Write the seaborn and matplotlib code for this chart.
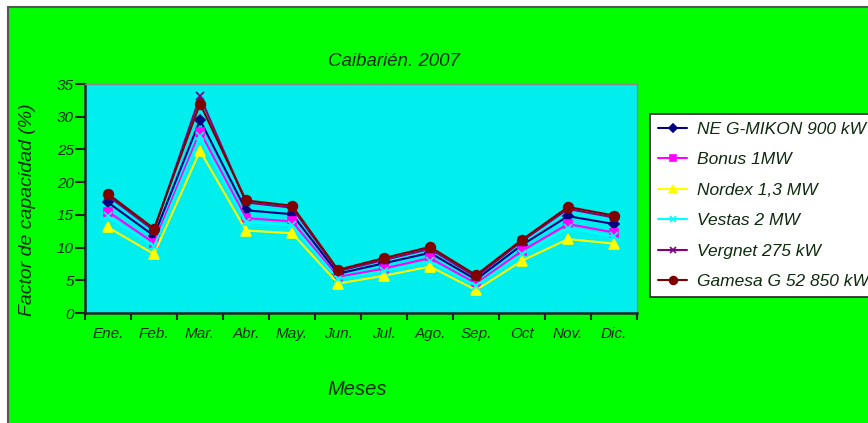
import matplotlib
matplotlib.use("Agg")
import matplotlib.pyplot as plt
import matplotlib.patches as mpatches
import seaborn as sns
import pandas as pd
import numpy as np

meses = ["Ene.", "Feb.", "Mar.", "Abr.", "May.", "Jun.", "Jul.", "Ago.", "Sep.", "Oct", "Nov.", "Dic."]

ne_gmikon = [16.9, 11.8, 29.5, 15.7, 15.1, 6.0, 7.6, 9.2, 5.1, 10.4, 14.8, 13.6]
bonus = [15.5, 10.7, 27.7, 14.5, 14.0, 5.5, 6.8, 8.4, 4.5, 9.5, 13.6, 12.3]
nordex = [13.1, 9.0, 24.8, 12.6, 12.2, 4.5, 5.7, 7.1, 3.5, 8.0, 11.3, 10.6]
vestas = [14.8, 10.2, 27.0, 13.9, 13.4, 5.2, 6.4, 7.9, 4.2, 9.0, 13.0, 11.7]
vergnet = [17.9, 12.6, 33.1, 16.9, 16.1, 6.4, 8.1, 9.8, 5.5, 11.0, 15.9, 14.6]
gamesa = [18.2, 12.9, 32.0, 17.2, 16.4, 6.6, 8.4, 10.1, 5.8, 11.2, 16.2, 14.9]

series = {
    "NE G-MIKON 900 kW": ne_gmikon,
    "Bonus 1MW": bonus,
    "Nordex 1,3 MW": nordex,
    "Vestas 2 MW": vestas,
    "Vergnet 275 kW": vergnet,
    "Gamesa G 52 850 kW": gamesa,
}
colores = ["#000080", "#ff00ff", "#ffff00", "#00ffff", "#800080", "#800000"]
marcadores = ["D", "s", "^", "x", "x", "o"]
tamanos = [5, 6, 7, 6, 6, 7]
texto = "#0d2b0d"

sns.set_style("white")
plt.rcParams["font.family"] = ["Liberation Sans", "DejaVu Sans"]
plt.rcParams["font.style"] = "italic"

fig = plt.figure(figsize=(8.68, 4.23), dpi=100)
fig.patch.set_facecolor("white")
# fondo verde del area del grafico
fondo = mpatches.Rectangle((8 / 868, -0.01), 1, 1.01 - 7 / 423, transform=fig.transFigure,
                           facecolor="#00ff00", edgecolor="#555555", linewidth=1.5, zorder=-10)
fig.patches.append(fondo)

ax = fig.add_axes([85 / 868, 110 / 423, 552 / 868, 229 / 423])
ax.set_facecolor("#00eeee")

x = np.arange(len(meses))
for (nombre, vals), c, m, s in zip(series.items(), colores, marcadores, tamanos):
    df = pd.DataFrame({"mes": x, "valor": vals})
    sns.lineplot(data=df, x="mes", y="valor", ax=ax, color=c, marker=m, markersize=s,
                 markeredgecolor=c, markeredgewidth=1.2, linewidth=1.5, label=nombre)

ax.set_xlim(-0.5, 11.5)
ax.set_ylim(0, 35)
ax.set_yticks(range(0, 36, 5))
ax.set_xticks(x)
ax.set_xticklabels(meses, fontsize=11)
ax.set_xticks(np.arange(-0.5, 12, 1), minor=True)
ax.tick_params(axis="x", which="both", bottom=True)
ax.tick_params(axis="y", left=True)
ax.tick_params(axis="x", which="major", length=0, pad=10, colors=texto)
ax.tick_params(axis="x", which="minor", length=5, width=1.5, direction="out", color="#222222")
ax.tick_params(axis="y", length=7, width=1.5, direction="out", labelsize=11, pad=1,
               colors=texto)
ax.tick_params(axis="y", color="#222222")
for lab in ax.get_yticklabels():
    lab.set_fontstyle("italic")

for lado in ["left", "bottom"]:
    ax.spines[lado].set_color("#222222")
    ax.spines[lado].set_linewidth(1.8)
for lado in ["top", "right"]:
    ax.spines[lado].set_color("#888888")
    ax.spines[lado].set_linewidth(1.0)

ax.set_xlabel("")
ax.set_ylabel("")
fig.text(394 / 868, 1 - 61 / 423, "Caibarién. 2007", ha="center", va="center",
         fontsize=13.5, style="italic", color=texto)
fig.text(28 / 868, 1 - 210 / 423, "Factor de capacidad (%)", ha="center", va="center",
         rotation=90, fontsize=14, style="italic", color=texto)
fig.text(357 / 868, 1 - 389 / 423, "Meses", ha="center", va="center",
         fontsize=14.5, style="italic", color=texto)

handles, labels = ax.get_legend_handles_labels()
ax.get_legend().remove()
leg = fig.legend(handles, labels, loc="upper left", bbox_to_anchor=(650 / 868, 1 - 114 / 423),
                 frameon=True, fancybox=False, fontsize=12.5, handlelength=1.7,
                 handletextpad=0.55, labelspacing=0.88, borderpad=0.45, borderaxespad=0,
                 markerscale=0.8, framealpha=1)
leg.get_frame().set_facecolor("white")
leg.get_frame().set_edgecolor("#222222")
leg.get_frame().set_linewidth(1.2)
for t in leg.get_texts():
    t.set_fontstyle("italic")
    t.set_color(texto)

fig.savefig("out.png", dpi=100, facecolor=fig.get_facecolor())
plt.close()
